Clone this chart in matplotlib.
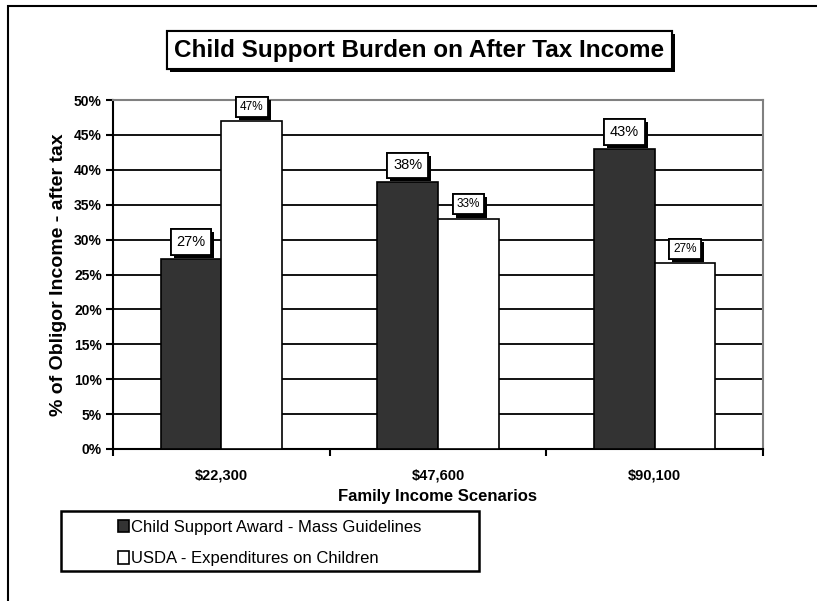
import numpy as np
import matplotlib
matplotlib.use("Agg")
import matplotlib.pyplot as plt
import matplotlib.patheffects as pe
from matplotlib.patches import Rectangle, Patch

plt.rcParams['font.family'] = ['Liberation Sans', 'DejaVu Sans']

# data
scenarios = ['$22,300', '$47,600', '$90,100']
mass_guidelines = [27.2, 38.2, 43.0]
usda = [47.0, 33.0, 26.6]
series_names = ['Child Support Award - Mass Guidelines', 'USDA - Expenditures on Children']
yticks = [0, 5, 10, 15, 20, 25, 30, 35, 40, 45, 50]

fig = plt.figure(figsize=(8.17, 6.01), dpi=100)
ax = fig.add_axes([113/817, 1 - 449/601, 650/817, 349/601])

x = np.arange(len(scenarios))
w = 0.28
dark = ax.bar(x, mass_guidelines, width=-w, align='edge', color='#333333',
              edgecolor='black', linewidth=1.2, zorder=3)
white = ax.bar(x, usda, width=w, align='edge', color='white',
               edgecolor='black', linewidth=1.2, zorder=3)

shadow = [pe.withSimplePatchShadow(offset=(2.2, -2.2), shadow_rgbFace='black', alpha=1.0),
          pe.Normal()]


def label(bars, vals, size, pad):
    for b, v in zip(bars, vals):
        t = ax.annotate(f"{round(v)}%", xy=(b.get_x() + b.get_width() / 2, v),
                        xytext=(0, 3 + pad * size), textcoords='offset points',
                        ha='center', va='bottom', fontsize=size, zorder=5,
                        bbox=dict(boxstyle=f'square,pad={pad}', fc='white',
                                  ec='black', lw=1.3))
        t.get_bbox_patch().set_path_effects(shadow)


label(dark, mass_guidelines, 10.5, 0.4)
label(white, usda, 8.5, 0.35)

ax.set_xlim(-0.5, 2.5)
ax.set_ylim(0, 50)
ax.set_yticks(yticks)
ax.set_yticklabels([f"{v}%" for v in yticks], fontsize=10, fontweight='bold')
for v in yticks[1:-1]:
    ax.axhline(v, color='black', lw=1.3, zorder=1)

ax.set_xticks(x)
ax.set_xticklabels(scenarios, fontsize=10.5, fontweight='bold')
ax.set_xticks(np.arange(-0.5, 3, 1), minor=True)
ax.tick_params(axis='x', which='major', length=0, pad=14)
ax.tick_params(axis='x', which='minor', length=5, width=1.5, direction='out')
ax.tick_params(axis='y', length=5, width=1.5, direction='out', pad=3)

for s in ['left', 'bottom']:
    ax.spines[s].set_linewidth(1.5)
    ax.spines[s].set_color('black')
for s in ['top', 'right']:
    ax.spines[s].set_linewidth(1.5)
    ax.spines[s].set_color('#808080')

ax.set_xlabel('Family Income Scenarios', fontsize=12, fontweight='bold', labelpad=5)
ax.set_ylabel('% of Obligor Income - after tax', fontsize=14, fontweight='bold', labelpad=5)

# title in a shadowed box
title = fig.text(419.5/817, 1 - 50/601, 'Child Support Burden on After Tax Income',
                 ha='center', va='center', fontsize=17.5, fontweight='bold',
                 bbox=dict(boxstyle='square,pad=0.32', fc='white', ec='black', lw=1.5))
title.get_bbox_patch().set_path_effects(shadow)

# legend box
fig.patches.append(Rectangle((61/817, 1 - 571/601), 418/817, 60/601, transform=fig.transFigure,
                             fill=False, ec='black', lw=1.8))
handles = [Patch(fc='#333333', ec='black', lw=1.2), Patch(fc='white', ec='black', lw=1.2)]
fig.legend(handles, series_names, loc='center', bbox_to_anchor=(270/817, 1 - 543/601),
           frameon=False, fontsize=12, handlelength=0.65, handleheight=0.75,
           handletextpad=0.15, labelspacing=1.0, borderpad=0)

# outer chart frame
fig.patches.append(Rectangle((8/817, -0.1), 1.1, 1.1 - 6/601, transform=fig.transFigure,
                             fill=False, ec='black', lw=1.5))

fig.savefig('out.png', dpi=100)
